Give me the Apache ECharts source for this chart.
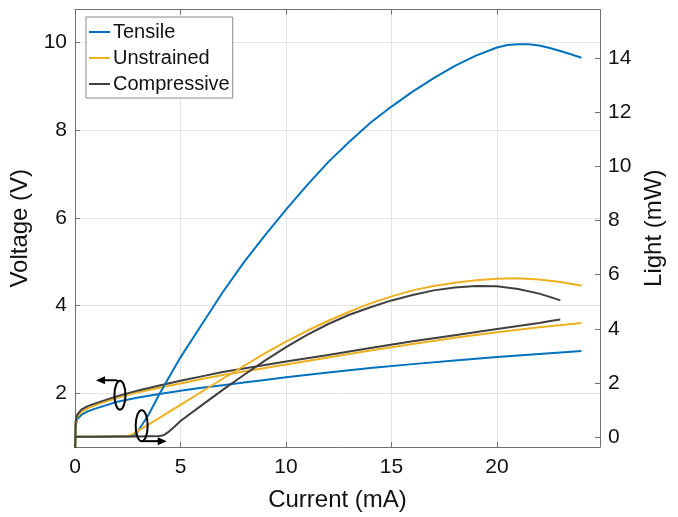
<!DOCTYPE html>
<html>
<head>
<meta charset="utf-8">
<script src="https://cdn.jsdelivr.net/npm/echarts@6/dist/echarts.min.js"></script>
<style>
  html, body { margin: 0; padding: 0; background: #fff; }
  #main { width: 678px; height: 517px; }
</style>
</head>
<body>
<div id="main"></div>
<script>
// ---- data ----
var seriesNames = ['Tensile', 'Unstrained', 'Compressive'];

// voltage (left axis), current in mA
var tensileVCurrent = [0, 0.03, 0.1, 0.3, 0.6, 1, 2, 3, 4, 5, 6, 7, 8, 9, 10, 12, 14, 16, 18, 20, 22, 24];
var tensileVoltage  = [0.5, 1.25, 1.4, 1.5, 1.58, 1.65, 1.8, 1.9, 1.98, 2.05, 2.12, 2.18, 2.24, 2.3, 2.36, 2.47, 2.57, 2.66, 2.74, 2.82, 2.89, 2.96];

var unstrainedVCurrent = [0, 0.03, 0.1, 0.3, 0.6, 1, 2, 3, 4, 5, 6, 7, 8, 9, 10, 12, 14, 16, 18, 20, 22, 24];
var unstrainedVoltage  = [0.5, 1.3, 1.45, 1.57, 1.65, 1.73, 1.89, 2.02, 2.12, 2.22, 2.32, 2.41, 2.49, 2.57, 2.65, 2.81, 2.97, 3.12, 3.26, 3.39, 3.5, 3.6];

var compressiveVCurrent = [0, 0.03, 0.1, 0.3, 0.6, 1, 2, 3, 4, 5, 6, 7, 8, 9, 10, 12, 14, 16, 18, 20, 22, 22.6, 23];
var compressiveVoltage  = [0.5, 1.35, 1.5, 1.62, 1.7, 1.77, 1.93, 2.06, 2.17, 2.28, 2.38, 2.48, 2.56, 2.64, 2.72, 2.87, 3.03, 3.18, 3.32, 3.46, 3.6, 3.65, 3.68];

// light (right axis)
var tensileLCurrent = [0, 1, 2, 2.7, 2.9, 3.5, 4, 5, 6, 7, 8, 9, 10, 11, 12, 13, 14, 15, 16, 17, 18, 19, 20, 20.5, 21, 21.5, 22, 22.5, 23, 23.5, 24];
var tensileLight    = [0.02, 0.02, 0.03, 0.04, 0.12, 0.85, 1.6, 2.95, 4.15, 5.35, 6.45, 7.45, 8.4, 9.3, 10.15, 10.9, 11.6, 12.2, 12.75, 13.25, 13.7, 14.08, 14.38, 14.47, 14.5, 14.5, 14.45, 14.36, 14.25, 14.13, 14.0];

var unstrainedLCurrent = [0, 1, 2, 2.45, 2.7, 3, 4, 5, 6, 7, 8, 9, 10, 11, 12, 13, 14, 15, 16, 17, 18, 19, 20, 21, 22, 23, 24];
var unstrainedLight    = [0.02, 0.02, 0.03, 0.04, 0.1, 0.25, 0.72, 1.2, 1.68, 2.16, 2.63, 3.1, 3.53, 3.93, 4.3, 4.63, 4.94, 5.2, 5.42, 5.58, 5.7, 5.79, 5.85, 5.87, 5.82, 5.73, 5.6];

var compressiveLCurrent = [0, 1, 2, 3, 4, 4.2, 4.4, 4.7, 5, 6, 7, 8, 9, 10, 11, 12, 13, 14, 15, 16, 17, 18, 19, 20, 21, 22, 22.5, 23];
var compressiveLight    = [0.02, 0.02, 0.03, 0.03, 0.05, 0.08, 0.18, 0.38, 0.6, 1.18, 1.75, 2.3, 2.83, 3.33, 3.78, 4.18, 4.52, 4.8, 5.05, 5.25, 5.42, 5.53, 5.58, 5.57, 5.47, 5.3, 5.18, 5.05];

var xTicks = [0, 5, 10, 15, 20];
var voltageTicks = [2, 4, 6, 8, 10];
var lightTicks = [0, 2, 4, 6, 8, 10, 12, 14];

var colors = ['#0072BD', '#EDB120', '#404040'];
var FONT = 'Liberation Sans, Arial, sans-serif';

function pairs(xs, ys) {
    var out = [];
    for (var i = 0; i < xs.length; i++) {
        out.push([xs[i], ys[i]]);
    }
    return out;
}

function lineSeries(name, color, yIdx, xs, ys) {
    return {
        name: name,
        type: 'line',
        yAxisIndex: yIdx,
        data: pairs(xs, ys),
        symbol: 'none',
        smooth: false,
        clip: true,
        color: color,
        lineStyle: { color: color, width: 2, join: 'round' },
        emphasis: { disabled: true }
    };
}

var myChart = echarts.init(document.getElementById('main'), null, { renderer: 'canvas' });

var axisLineStyle = { color: '#707070', width: 1 };
var labelStyle = { color: '#111', fontFamily: FONT, fontSize: 21 };

var option = {
    animation: false,
    backgroundColor: '#fff',
    grid: { left: 75, right: 78, top: 9.5, bottom: 69, containLabel: false },
    legend: {
        orient: 'vertical',
        left: 86,
        top: 17,
        data: seriesNames,
        backgroundColor: '#fff',
        borderColor: '#8a8a8a',
        borderWidth: 1,
        borderRadius: 0,
        padding: [5, 3, 4, 2],
        itemWidth: 21,
        itemHeight: 20,
        itemGap: 6,
        itemStyle: { opacity: 0 },
        textStyle: { color: '#111', fontFamily: FONT, fontSize: 20, padding: [0, 0, 0, -2] },
        selectedMode: false
    },
    xAxis: [
        {
            type: 'value',
            min: 0,
            max: 24.88,
            position: 'bottom',
            name: 'Current (mA)',
            nameLocation: 'middle',
            nameGap: 41,
            nameTextStyle: { color: '#111', fontFamily: FONT, fontSize: 24 },
            axisLine: { show: true, onZero: false, lineStyle: axisLineStyle },
            axisTick: { show: true, inside: true, length: 5, customValues: xTicks, lineStyle: axisLineStyle },
            axisLabel: Object.assign({ margin: 10, customValues: xTicks }, labelStyle),
            splitLine: { show: true, lineStyle: { color: '#e3e3e3', width: 1 } }
        },
        {
            type: 'value',
            min: 0,
            max: 24.88,
            position: 'top',
            axisLine: { show: true, onZero: false, lineStyle: axisLineStyle },
            axisTick: { show: true, inside: true, length: 5, customValues: xTicks, lineStyle: axisLineStyle },
            axisLabel: { show: false },
            splitLine: { show: false }
        }
    ],
    yAxis: [
        {
            type: 'value',
            min: 0.768,
            max: 10.756,
            position: 'left',
            name: 'Voltage (V)',
            nameLocation: 'middle',
            nameGap: 37,
            nameTextStyle: { color: '#111', fontFamily: FONT, fontSize: 24 },
            axisLine: { show: true, onZero: false, lineStyle: axisLineStyle },
            axisTick: { show: true, inside: true, length: 5, customValues: voltageTicks, lineStyle: axisLineStyle },
            axisLabel: Object.assign({ margin: 8, customValues: voltageTicks }, labelStyle),
            splitLine: { show: true, lineStyle: { color: '#e3e3e3', width: 1 } }
        },
        {
            type: 'value',
            min: -0.357,
            max: 15.78,
            position: 'right',
            name: 'Light (mW)',
            nameLocation: 'middle',
            nameGap: 41,
            nameRotate: 90,
            nameTextStyle: { color: '#111', fontFamily: FONT, fontSize: 24 },
            axisLine: { show: true, onZero: false, lineStyle: axisLineStyle },
            axisTick: { show: true, inside: true, length: 5, customValues: lightTicks, lineStyle: axisLineStyle },
            axisLabel: Object.assign({ margin: 8, customValues: lightTicks }, labelStyle),
            splitLine: { show: false }
        }
    ],
    series: [
        lineSeries(seriesNames[0], colors[0], 0, tensileVCurrent, tensileVoltage),
        lineSeries(seriesNames[1], colors[1], 0, unstrainedVCurrent, unstrainedVoltage),
        lineSeries(seriesNames[2], colors[2], 0, compressiveVCurrent, compressiveVoltage),
        lineSeries(seriesNames[0], colors[0], 1, tensileLCurrent, tensileLight),
        lineSeries(seriesNames[1], colors[1], 1, unstrainedLCurrent, unstrainedLight),
        lineSeries(seriesNames[2], colors[2], 1, compressiveLCurrent, compressiveLight)
    ]
};

myChart.setOption(option);

// ---- ellipse + arrow markers telling which curves belong to which axis ----
var leftMark = myChart.convertToPixel({ xAxisIndex: 0, yAxisIndex: 0 }, [2.13, 1.95]);
var rightMark = myChart.convertToPixel({ xAxisIndex: 0, yAxisIndex: 1 }, [3.16, 0.43]);

function arrowHead(tipX, tipY, dir) {
    // dir: -1 points left, +1 points right
    return {
        type: 'polygon',
        shape: { points: [[tipX, tipY], [tipX - dir * 9, tipY - 4], [tipX - dir * 9, tipY + 4]] },
        style: { fill: '#000' },
        z: 100
    };
}

var lTop = leftMark[1] - 14.5;
var rBot = rightMark[1] + 15.5;

myChart.setOption({
    graphic: [
        {
            type: 'ellipse',
            shape: { cx: leftMark[0], cy: leftMark[1], rx: 5.5, ry: 14.5 },
            style: { fill: 'none', stroke: '#000', lineWidth: 2 },
            z: 100
        },
        {
            type: 'polyline',
            shape: { points: [[leftMark[0] - 1, lTop + 1], [leftMark[0] - 4, lTop - 0.5], [leftMark[0] - 21, lTop - 0.5]] },
            style: { fill: 'none', stroke: '#000', lineWidth: 2 },
            z: 100
        },
        arrowHead(leftMark[0] - 24, lTop - 0.5, -1),
        {
            type: 'ellipse',
            shape: { cx: rightMark[0], cy: rightMark[1], rx: 6, ry: 15.5 },
            style: { fill: 'none', stroke: '#000', lineWidth: 2 },
            z: 100
        },
        {
            type: 'polyline',
            shape: { points: [[rightMark[0], rBot], [rightMark[0] + 22, rBot]] },
            style: { fill: 'none', stroke: '#000', lineWidth: 2 },
            z: 100
        },
        arrowHead(rightMark[0] + 25, rBot, 1)
    ]
});

window.onresize = myChart.resize;
</script>
</body>
</html>
